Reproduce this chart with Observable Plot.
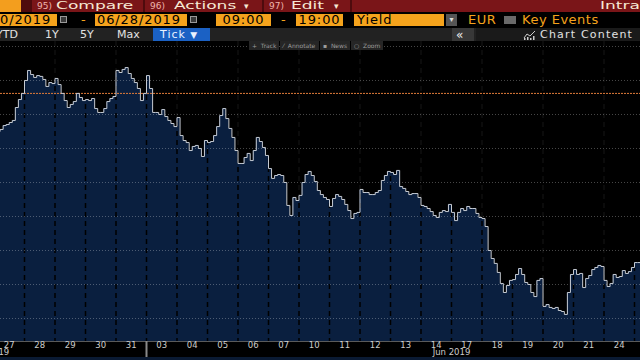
<!DOCTYPE html>
<html><head><meta charset="utf-8">
<script src="https://cdn.jsdelivr.net/npm/d3@7"></script>
<script src="https://cdn.jsdelivr.net/npm/@observablehq/plot@0.6"></script>
<style>
html,body{margin:0;padding:0;width:640px;height:360px;overflow:hidden;background:#0a1a33;font-family:"DejaVu Sans",sans-serif;}
#wrap{position:relative;width:640px;height:360px;}
.abs{position:absolute;white-space:nowrap;box-sizing:border-box;}
.r1{top:0;height:12px;line-height:12px;font-size:11px;color:#f6e8d4;transform:scaleX(1.55);transform-origin:0 0;}
.n1{top:0;height:12px;line-height:12px;font-size:9px;color:#f0b4ac;}
.ob{top:14px;height:12px;line-height:12px;background:#f5a31c;color:#000;font-size:13px;letter-spacing:0.9px;}
.ot{top:14px;height:12px;line-height:12px;color:#f5a31c;font-size:13px;letter-spacing:0.5px;}
.r3{top:29px;height:12px;line-height:12px;color:#e2e2e2;font-size:11px;}
.tb{top:41px;height:9px;line-height:9px;font-size:6px;color:#9c9c9c;background:#262626;padding-left:3px;overflow:hidden;}
.cal{top:16px;width:7px;height:7px;border:1px solid #9a9a9a;background:#3a3a3a;}
#chart{position:absolute;left:0;top:41px;}
</style></head><body><div id="wrap">
<!-- row 1 -->
<div class="abs" style="left:0;top:0;width:640px;height:12px;background:#7a1518"></div>
<div class="abs" style="left:0;top:0;width:21px;height:12px;background:#f39e1e"></div>
<div class="abs" style="left:21px;top:0;width:11px;height:12px;background:#4e0b0d"></div>
<div class="abs" style="left:143px;top:0;width:2px;height:12px;background:#4e0b0d"></div>
<div class="abs" style="left:262px;top:0;width:2px;height:12px;background:#4e0b0d"></div>
<div class="abs" style="left:350px;top:0;width:2px;height:12px;background:#4e0b0d"></div>
<div class="abs n1" style="left:37px">95)</div>
<div class="abs r1" style="left:56px">Compare</div>
<div class="abs n1" style="left:150px">96)</div>
<div class="abs r1" style="left:174px">Actions</div>
<div class="abs n1" style="left:244px;color:#f6e8d4">▾</div>
<div class="abs n1" style="left:269px">97)</div>
<div class="abs r1" style="left:291px">Edit</div>
<div class="abs n1" style="left:334px;color:#f6e8d4">▾</div>
<div class="abs r1" style="left:600px">Intra</div>
<!-- row 2 -->
<div class="abs" style="left:0;top:12px;width:640px;height:29px;background:#000"></div>
<div class="abs ob" style="left:0;width:57px">0/2019</div>
<div class="abs cal" style="left:60px"></div>
<div class="abs ot" style="left:81px">-</div>
<div class="abs ob" style="left:95px;width:92px;padding-left:2px">06/28/2019</div>
<div class="abs cal" style="left:190px"></div>
<div class="abs ob" style="left:216px;width:55px;text-align:center">09:00</div>
<div class="abs ot" style="left:281px">-</div>
<div class="abs ob" style="left:296px;width:47px;text-align:center">19:00</div>
<div class="abs ob" style="left:354px;width:90px;padding-left:3px">Yield</div>
<div class="abs" style="left:446px;top:14px;width:11px;height:12px;background:#555;color:#ddd;font-size:8px;line-height:12px;text-align:center">▾</div>
<div class="abs ot" style="left:468px">EUR</div>
<div class="abs" style="left:504px;top:16px;width:12px;height:8px;background:#6a6a6a"></div>
<div class="abs ot" style="left:522px">Key Events</div>
<!-- row 3 -->
<div class="abs" style="left:0;top:28px;width:640px;height:13px;background:#222"></div>
<div class="abs r3" style="left:-4px">YTD</div>
<div class="abs r3" style="left:45px">1Y</div>
<div class="abs r3" style="left:80px">5Y</div>
<div class="abs r3" style="left:117px">Max</div>
<div class="abs" style="left:153px;top:28px;width:57px;height:13px;background:#1b61c4"></div>
<div class="abs r3" style="left:160px;color:#eaf2ff;letter-spacing:1px">Tick <span style="font-size:9px">▼</span></div>
<div class="abs" style="left:452px;top:28px;width:22px;height:13px;background:#383838"></div>
<div class="abs r3" style="left:456px;font-size:12px;color:#eee">«</div>
<div class="abs" style="left:476px;top:28px;width:164px;height:13px;background:#1a1a1a"></div>
<svg class="abs" style="left:523px;top:30px" width="13" height="10"><path d="M1,8 L4,4 L7,6 L12,1" stroke="#ccc" fill="none" stroke-width="1"/><rect x="1" y="8" width="1.5" height="2" fill="#ccc"/><rect x="4" y="7" width="1.5" height="3" fill="#ccc"/><rect x="7" y="8" width="1.5" height="2" fill="#ccc"/><rect x="10" y="6" width="1.5" height="4" fill="#ccc"/></svg>
<div class="abs r3" style="left:540px;letter-spacing:1.2px">Chart Content</div>
<div id="chart"></div>
<!-- toolbar -->
<div class="abs tb" style="left:249px;width:30px">+&nbsp; Track</div>
<div class="abs tb" style="left:280px;width:39px">⁄&nbsp; Annotate</div>
<div class="abs tb" style="left:320px;width:30px">▪&nbsp; News</div>
<div class="abs tb" style="left:351px;width:32px">○&nbsp; Zoom</div>
</div>
<script>
// trading-day labels (x axis)
const dayLabels = ["27","28","29","30","31","03","04","05","06","07","10","11","12","13","14","17","18","19","20","21","24","25"];
const monthLabels = [{t: 0.5, label: "May 2019", anchor: "end"}, {t: 15, label: "Jun 2019", anchor: "middle"}];
// intraday yield samples (%), one list per trading day, 09:00-19:00
const may27 = [0.1882,0.1900,0.1912,0.1935,0.1941,0.1953,0.1965,0.2041,0.2088,0.2124];
const may28 = [0.2200,0.2259,0.2235,0.2218,0.2229,0.2224,0.2206,0.2165,0.2188,0.2182];
const may29 = [0.2212,0.2176,0.2124,0.2082,0.2041,0.2059,0.2076,0.2124,0.2100,0.2082];
const may30 = [0.2088,0.2082,0.2094,0.2035,0.2012,0.2012,0.2035,0.2076,0.2094,0.2106];
const may31 = [0.2259,0.2247,0.2265,0.2276,0.2241,0.2212,0.2188,0.2153,0.2082,0.2124];
const jun03 = [0.2229,0.2153,0.2012,0.2012,0.2000,0.2029,0.1988,0.1965,0.1947,0.1929];
const jun04 = [0.1982,0.1876,0.1847,0.1835,0.1788,0.1812,0.1818,0.1800,0.1753,0.1847];
const jun05 = [0.1835,0.1841,0.1876,0.1929,0.1994,0.2035,0.1976,0.1918,0.1865,0.1788];
const jun06 = [0.1712,0.1712,0.1747,0.1771,0.1729,0.1788,0.1865,0.1841,0.1806,0.1759];
const jun07 = [0.1682,0.1624,0.1641,0.1647,0.1641,0.1600,0.1465,0.1406,0.1512,0.1494];
const jun10 = [0.1524,0.1600,0.1647,0.1665,0.1641,0.1606,0.1553,0.1529,0.1512,0.1500];
const jun11 = [0.1459,0.1506,0.1529,0.1518,0.1500,0.1471,0.1435,0.1388,0.1418,0.1424];
const jun12 = [0.1559,0.1541,0.1541,0.1529,0.1529,0.1541,0.1553,0.1612,0.1641,0.1665];
const jun13 = [0.1659,0.1647,0.1671,0.1576,0.1565,0.1547,0.1529,0.1535,0.1535,0.1512];
const jun14 = [0.1465,0.1459,0.1447,0.1429,0.1406,0.1394,0.1424,0.1435,0.1429,0.1471];
const jun17 = [0.1424,0.1376,0.1424,0.1447,0.1435,0.1459,0.1447,0.1447,0.1418,0.1394];
const jun18 = [0.1388,0.1341,0.1200,0.1153,0.1124,0.1071,0.1006,0.0953,0.0994,0.1024];
const jun19 = [0.1029,0.1059,0.1094,0.1059,0.1012,0.1000,0.0953,0.0929,0.1024,0.1035];
const jun20 = [0.0871,0.0882,0.0865,0.0859,0.0865,0.0847,0.0841,0.0824,0.0953,0.1059];
const jun21 = [0.1088,0.1059,0.1065,0.0982,0.1035,0.1053,0.1088,0.1100,0.1112,0.1106];
const jun24 = [0.1024,0.0988,0.1006,0.1059,0.1041,0.1047,0.1082,0.1065,0.1076,0.1100];
const jun25 = [0.1129,0.1129,0.1118];
const dayValues = [may27,may28,may29,may30,may31,jun03,jun04,jun05,jun06,jun07,jun10,jun11,jun12,jun13,jun14,jun17,jun18,jun19,jun20,jun21,jun24,jun25];
const gridLevels = [0.24,0.22,0.20,0.18,0.16,0.14,0.12,0.10,0.08];
const refLevel = 0.2124;
const yDomain = [0.06647, 0.24294];
const xDomain = [0.2131, 21.1967];

const rows = [];
dayValues.forEach((vals, d) => vals.forEach((v, i) => rows.push({t: d + (i + 0.5) / 10, v})));
const boundaries = d3.range(1, dayLabels.length);
const centers = dayLabels.map((_, i) => i + 0.5).filter(c => c < xDomain[1] - 0.2);

const chart = Plot.plot({
  width: 640, height: 316,
  marginLeft: 0, marginRight: 0, marginTop: 0, marginBottom: 16,
  style: {background: "#000", fontFamily: "DejaVu Sans, sans-serif", overflow: "hidden"},
  x: {type: "linear", domain: xDomain, axis: null, label: null},
  y: {domain: yDomain, axis: null, label: null},
  marks: [
    Plot.ruleX(boundaries, {stroke: "#5e5e5e", strokeDasharray: "5,4"}),
    Plot.areaY(rows, {x: "t", y: "v", fill: "#0a1f3f", curve: "step", clip: true}),
    Plot.ruleX(boundaries, {stroke: "#000000", strokeWidth: 1.5, strokeDasharray: "5,4"}),
    Plot.ruleY(gridLevels, {stroke: "#ffffff", strokeOpacity: 0.28, strokeDasharray: "1,2"}),
    Plot.ruleY([refLevel], {stroke: "#e07b39", strokeDasharray: "2,1"}),
    Plot.lineY(rows, {x: "t", y: "v", stroke: "#c6cbd3", strokeWidth: 1, curve: "step", clip: true}),
    Plot.ruleY([yDomain[0]], {stroke: "#5a5a5a"}),
    Plot.axisX(centers, {anchor: "bottom", label: null, tickSize: 0, tickPadding: 0, tickFormat: d => dayLabels[Math.floor(d)], fill: "#cdcdcd", fontSize: 8.5}),
    Plot.axisX([5], {anchor: "bottom", label: null, tickSize: 16, tickFormat: () => "", stroke: "#8a8a8a", strokeWidth: 2}),
    Plot.text(monthLabels.filter(m => m.anchor === "end"), {x: "t", text: "label", frameAnchor: "bottom", dy: 13, textAnchor: "end", fill: "#cdcdcd", fontSize: 8.5}),
    Plot.text(monthLabels.filter(m => m.anchor === "middle"), {x: "t", text: "label", frameAnchor: "bottom", dy: 13, textAnchor: "middle", fill: "#cdcdcd", fontSize: 8.5})
  ]
});
document.getElementById("chart").appendChild(chart);
</script>
</body></html>
